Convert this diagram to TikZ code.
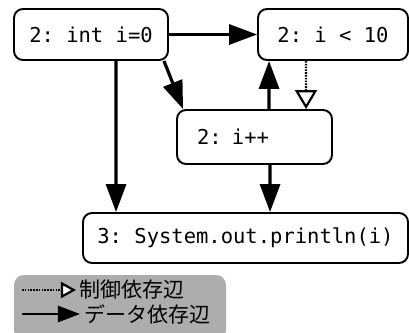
\documentclass[tikz,border=0pt]{standalone}
\usepackage{fontspec}
\setmonofont{DejaVu Sans Mono}
\newfontfamily\jpfont{Noto Sans CJK JP}
\usetikzlibrary{arrows.meta,calc}
\tikzset{
  box/.style={draw, line width=1.9bp, rounded corners=9bp, inner sep=0pt,
    font=\ttfamily\fontsize{20.5bp}{24bp}\selectfont},
  data/.style={line width=3.2bp, -{Triangle[length=28bp,width=20bp]}},
  ctrl/.style={line width=2.2bp, dash pattern=on 1.6bp off 1.2bp,
    -{Triangle[open,fill=white,length=19bp,width=22bp,line width=2.2bp]}},
  legdata/.style={line width=2.6bp, -{Triangle[length=22bp,width=16bp]}},
  legctrl/.style={line width=2.2bp, dash pattern=on 1.6bp off 1.2bp,
    -{Triangle[open,fill=white,length=15bp,width=16bp,line width=2.2bp]}},
  jp/.style={font=\jpfont\fontsize{21bp}{24bp}\selectfont, inner sep=0pt, anchor=west}
}
\begin{document}
\begin{tikzpicture}[x=1bp,y=-1bp]
\useasboundingbox (0,0) rectangle (409,333);
% legend background
\fill[black!32, rounded corners=10bp] (14,275) rectangle (226,340);
\node[box, minimum width=154bp, minimum height=51bp] (n1) at (91,34.5) {2: int i=0};
\node[box, minimum width=150bp, minimum height=51bp] (n2) at (333,34.5) {2: i < 10};
\node[box, minimum width=155bp, minimum height=54bp, text width=115bp, align=left] (n3) at (254.5,137) {2: i++};
\node[box, minimum width=325bp, minimum height=50bp] (n4) at (245.5,238) {3: System.out.println(i)};
% connectors
\draw[data] (n1.east) -- (n2.west);
\draw[data] ($(n1.south east)+(-5,0)$) -- ($(n3.north west)+(7,0)$);
\draw[data] ($(n1.south west)+(103,0)$) -- ($(n4.north west)+(34,0)$);
\draw[data] ($(n3.north west)+(93,0)$) -- ($(n2.south west)+(12,0)$);
\draw[ctrl] ($(n2.south west)+(49,0)$) -- ($(n3.north west)+(130,0)$);
\draw[data] ($(n3.south west)+(94,0)$) -- ($(n4.north west)+(188,0)$);
% legend
\coordinate (c1) at (22,290);
\coordinate (c2) at (76,290);
\coordinate (d1) at (22,314);
\coordinate (d2) at (80,314);
\draw[legctrl] (c1) -- (c2);
\draw[legdata] (d1) -- (d2);
\node[jp] (t1) at (79,290) {制御依存辺};
\node[jp] (t2) at (84,314) {データ依存辺};
\end{tikzpicture}
\end{document}
